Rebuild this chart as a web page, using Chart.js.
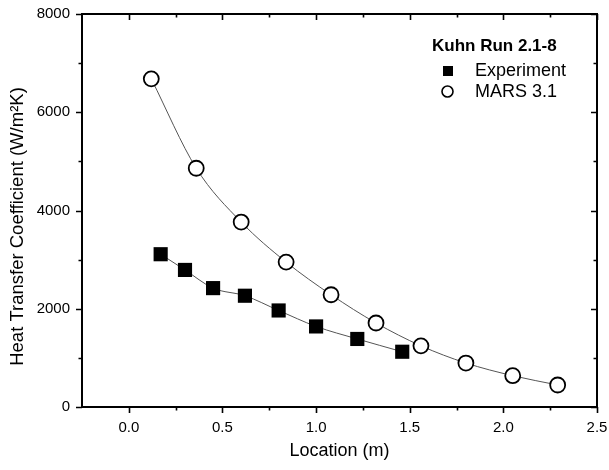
<!DOCTYPE html>
<html>
<head>
<meta charset="utf-8">
<script src="https://cdn.jsdelivr.net/npm/chart.js@4.4.1/dist/chart.umd.min.js"></script>
<style>
    html, body { margin: 0; padding: 0; background: #fff; }
</style>
</head>
<body>
<canvas id="chart" width="609" height="470"></canvas>
<script>
// Experiment (filled squares)
var expX = [0.17, 0.30, 0.45, 0.62, 0.80, 1.00, 1.22, 1.46];
var expY = [3110, 2790, 2420, 2265, 1965, 1640, 1385, 1125];

// MARS 3.1 (open circles)
var marsX = [0.12, 0.36, 0.60, 0.84, 1.08, 1.32, 1.56, 1.80, 2.05, 2.29];
var marsY = [6680, 4860, 3765, 2950, 2285, 1710, 1245, 895, 637, 448];

var xTicks = [0, 0.5, 1.0, 1.5, 2.0, 2.5];
var xMinorTicks = [0.25, 0.75, 1.25, 1.75, 2.25];
var yTicks = [0, 2000, 4000, 6000, 8000];
var yMinorTicks = [1000, 3000, 5000, 7000];

var legendTitle = 'Kuhn Run 2.1-8';
var seriesNames = ['Experiment', 'MARS 3.1'];
var yTitle = 'Heat Transfer Coefficient (W/m\u00B2K)';

var FONT = "'Liberation Sans', Arial, Helvetica, sans-serif";

function toPoints(xs, ys) {
    return xs.map(function (x, i) { return { x: x, y: ys[i] }; });
}

// box frame with outward ticks left/bottom and inward ticks top/right
var frameTicks = {
    id: 'frameTicks',
    beforeDatasetsDraw: function (chart) {
        var ctx = chart.ctx;
        var a = chart.chartArea;
        var xs = chart.scales.x;
        var ys = chart.scales.y;
        ctx.save();
        ctx.strokeStyle = '#000';
        ctx.lineWidth = 2;
        ctx.strokeRect(a.left, a.top, a.right - a.left, a.bottom - a.top);
        ctx.lineWidth = 1.6;
        ctx.beginPath();
        function xTick(v, len) {
            var p = Math.round(xs.getPixelForValue(v)) + 0.5;
            ctx.moveTo(p, a.bottom); ctx.lineTo(p, a.bottom + len);
            ctx.moveTo(p, a.top); ctx.lineTo(p, a.top + len);
        }
        function yTick(v, len) {
            var p = Math.round(ys.getPixelForValue(v)) + 0.5;
            ctx.moveTo(a.left - len, p); ctx.lineTo(a.left, p);
            ctx.moveTo(a.right - len, p); ctx.lineTo(a.right, p);
        }
        xTicks.forEach(function (v) { xTick(v, 6); });
        xMinorTicks.forEach(function (v) { xTick(v, 3.5); });
        yTicks.forEach(function (v) { yTick(v, 6); });
        yMinorTicks.forEach(function (v) { yTick(v, 3.5); });
        ctx.stroke();
        ctx.restore();
    }
};

var insideLegend = {
    id: 'insideLegend',
    afterDraw: function (chart) {
        var ctx = chart.ctx;
        var a = chart.chartArea;
        var x0 = a.right - 165;
        ctx.save();
        ctx.fillStyle = '#000';
        ctx.textBaseline = 'middle';
        ctx.font = 'bold 17px ' + FONT;
        ctx.fillText(legendTitle, x0, a.top + 32);

        ctx.font = '18px ' + FONT;
        ctx.fillRect(x0 + 11, a.top + 52, 10, 10);
        ctx.fillText(seriesNames[0], x0 + 43, a.top + 57);

        ctx.beginPath();
        ctx.arc(x0 + 15.5, a.top + 77.5, 5.5, 0, Math.PI * 2);
        ctx.fillStyle = '#fff';
        ctx.fill();
        ctx.lineWidth = 1.6;
        ctx.strokeStyle = '#000';
        ctx.stroke();
        ctx.fillStyle = '#000';
        ctx.fillText(seriesNames[1], x0 + 43, a.top + 78);

        // y axis title, sits a little below the axis centre in the original
        ctx.save();
        ctx.translate(23, (a.top + a.bottom) / 2 + 16);
        ctx.rotate(-Math.PI / 2);
        ctx.font = '18.5px ' + FONT;
        ctx.textAlign = 'center';
        ctx.textBaseline = 'alphabetic';
        ctx.fillText(yTitle, 0, 0);
        ctx.restore();
        ctx.restore();
    }
};

new Chart(document.getElementById('chart'), {
    type: 'scatter',
    data: {
        datasets: [{
            label: seriesNames[1],
            data: toPoints(marsX, marsY),
            showLine: true,
            borderColor: '#555',
            borderWidth: 1,
            cubicInterpolationMode: 'monotone',
            pointStyle: 'circle',
            pointRadius: 7.5,
            pointBorderWidth: 1.8,
            pointBorderColor: '#000',
            pointBackgroundColor: '#fff'
        }, {
            label: seriesNames[0],
            data: toPoints(expX, expY),
            showLine: true,
            borderColor: '#555',
            borderWidth: 1,
            cubicInterpolationMode: 'monotone',
            pointStyle: 'rect',
            pointRadius: 10,
            pointBorderWidth: 0,
            pointBackgroundColor: '#000'
        }]
    },
    options: {
        responsive: false,
        animation: false,
        layout: {
            padding: { left: 7, right: 12, top: 14, bottom: 4 }
        },
        plugins: {
            legend: { display: false },
            tooltip: { enabled: false }
        },
        scales: {
            x: {
                type: 'linear',
                min: -0.25,
                max: 2.5,
                afterBuildTicks: function (scale) {
                    scale.ticks = xTicks.map(function (v) { return { value: v }; });
                },
                afterFit: function (scale) {
                    scale.height = 59;
                    scale.paddingLeft = 0;
                    scale.paddingRight = 0;
                },
                grid: { display: false, drawTicks: false },
                border: { display: false },
                ticks: {
                    padding: 12,
                    color: '#000',
                    font: { family: FONT, size: 15 },
                    callback: function (v) { return Number(v).toFixed(1); }
                },
                title: {
                    display: true,
                    text: 'Location (m)',
                    color: '#000',
                    font: { family: FONT, size: 18 },
                    padding: { top: 4, bottom: 4 }
                }
            },
            y: {
                type: 'linear',
                min: 0,
                max: 8000,
                afterBuildTicks: function (scale) {
                    scale.ticks = yTicks.map(function (v) { return { value: v }; });
                },
                afterFit: function (scale) {
                    scale.width = 75;
                    scale.paddingTop = 0;
                    scale.paddingBottom = 0;
                },
                grid: { display: false, drawTicks: false },
                border: { display: false },
                ticks: {
                    padding: 12,
                    color: '#000',
                    font: { family: FONT, size: 15 },
                    callback: function (v) { return String(v); }
                },
                title: { display: false }
            }
        }
    },
    plugins: [frameTicks, insideLegend]
});
</script>
</body>
</html>
